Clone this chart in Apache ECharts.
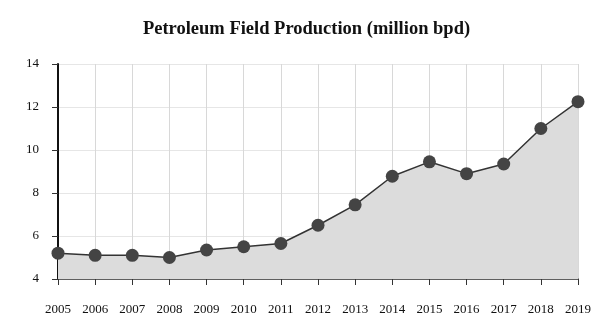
<!DOCTYPE html>
<html>
<head>
<meta charset="utf-8">
<script src="https://cdn.jsdelivr.net/npm/echarts@6/dist/echarts.min.js"></script>
<style>
  html, body { margin: 0; padding: 0; background: #fff; }
  #chart { width: 613px; height: 333px; }
</style>
</head>
<body>
<div id="chart"></div>
<script>
// Annual petroleum field production, million barrels per day
const years = ['2005', '2006', '2007', '2008', '2009', '2010', '2011', '2012', '2013', '2014', '2015', '2016', '2017', '2018', '2019'];
const production = [5.2, 5.1, 5.1, 5.0, 5.35, 5.5, 5.65, 6.5, 7.45, 8.78, 9.45, 8.9, 9.35, 11.0, 12.25];

const serif = '"Liberation Serif", "DejaVu Serif", serif';

const chart = echarts.init(document.getElementById('chart'), null, { renderer: 'canvas' });
chart.setOption({
  animation: false,
  backgroundColor: '#fff',
  title: {
    text: 'Petroleum Field Production (million bpd)',
    left: 'center',
    top: 15,
    textStyle: { fontFamily: serif, fontSize: 18.5, fontWeight: 'bold', color: '#111' }
  },
  grid: { left: 58, right: 35, top: 64, bottom: 54 },
  xAxis: {
    type: 'category',
    data: years,
    boundaryGap: false,
    axisLine: { lineStyle: { color: '#333', width: 1.5 } },
    axisTick: { show: true, length: 6, lineStyle: { color: '#333' } },
    axisLabel: { fontFamily: serif, fontSize: 13, color: '#111', margin: 24 },
    splitLine: { show: true, lineStyle: { color: '#d8d8d8', width: 1 } }
  },
  yAxis: {
    type: 'value',
    min: 4,
    max: 14,
    interval: 2,
    axisLine: { show: true, lineStyle: { color: '#111', width: 2 } },
    axisTick: { show: true, length: 6, lineStyle: { color: '#333' } },
    axisLabel: { fontFamily: serif, fontSize: 13, color: '#111', margin: 19 },
    splitLine: { show: true, lineStyle: { color: '#e6e6e6', width: 1 } }
  },
  series: [{
    type: 'line',
    data: production,
    symbol: 'circle',
    symbolSize: 13,
    itemStyle: { color: '#444' },
    lineStyle: { color: '#333', width: 1.5 },
    areaStyle: { color: '#dcdcdc', opacity: 1 },
    z: 3
  }]
});
</script>
</body>
</html>
